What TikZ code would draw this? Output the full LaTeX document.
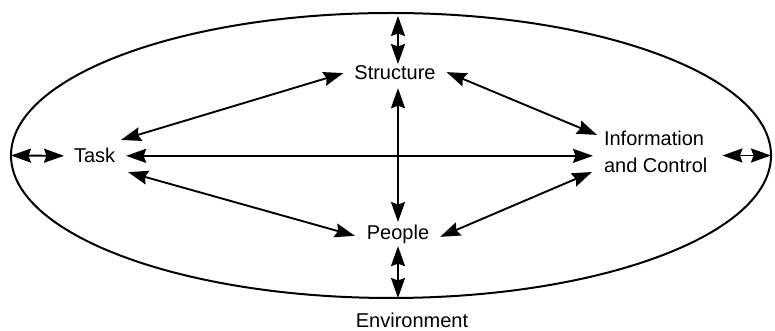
\documentclass[tikz,border=0pt]{standalone}
\usepackage{fontspec}
\setmainfont{Liberation Sans}
\usetikzlibrary{arrows.meta,shapes.geometric}
\tikzset{
  lbl/.style={inner sep=0pt, outer sep=0pt, font=\fontsize{20}{27}\selectfont},
  tipx/.tip={Stealth[length=20pt,width=14pt,inset=2.5pt]},
  dbl/.style={tipx-tipx, line width=1.9pt},
  envell/.style={ellipse, draw, line width=2pt, inner sep=0pt, outer sep=0pt, minimum width=760pt, minimum height=285pt}
}
\begin{document}
\begin{tikzpicture}[x=1pt,y=1pt]
\useasboundingbox (0,0) rectangle (775,331);
\node[envell] (ell) at (391,175.5) {};
\node[lbl, anchor=base west] (task) at (74,168) {Task};
\node[lbl, anchor=base] (struct) at (395,251) {Structure};
\node[lbl, anchor=base] (people) at (398,91) {People};
\node[lbl, anchor=south west, align=left] (info) at (604,158) {Information\\and Control};
\node[lbl, anchor=base] (env) at (412,3) {Environment};
% horizontal
\draw[dbl] (ell.west) -- ([xshift=-10pt]task.west);
\draw[dbl] ([xshift=11pt]task.east) -- ([xshift=-11pt]task.east -| info.west);
\draw[dbl] ([xshift=15pt]info.east |- ell.east) -- (ell.east);
% vertical
\draw[dbl] ([yshift=2pt]people.north |- struct.north) -- ([yshift=-3pt]people.north |- ell.north);
\draw[dbl] ([yshift=-8pt]people.north |- struct.south) -- ([yshift=3.5pt]people.north);
\draw[dbl] ([yshift=-2pt]people.south) -- (people.south |- ell.south);
% diagonals
\draw[dbl] ([shift={(6pt,8.6pt)}]task.north east) -- ([shift={(-11pt,0pt)}]struct.west);
\draw[dbl] ([shift={(11pt,1pt)}]struct.east) -- ([shift={(-7pt,-3.6pt)}]info.north west);
\draw[dbl] ([shift={(13pt,-9pt)}]task.south east) -- ([shift={(-12pt,-1pt)}]people.west);
\draw[dbl] ([shift={(11pt,-2pt)}]people.east) -- ([shift={(-12pt,1pt)}]info.south west);
\end{tikzpicture}
\end{document}
